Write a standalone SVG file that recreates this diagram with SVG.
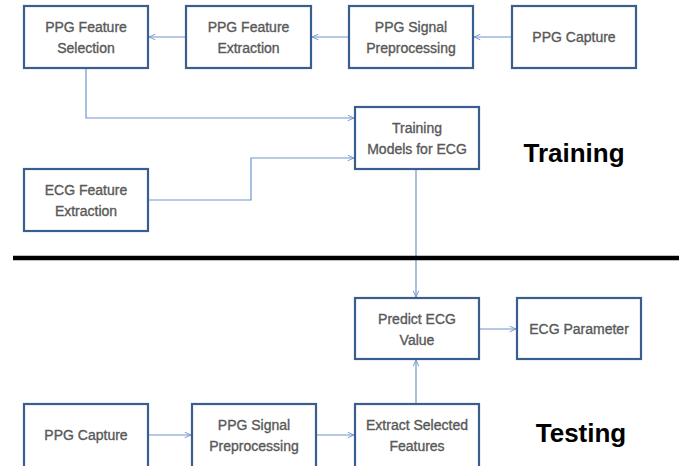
<svg xmlns="http://www.w3.org/2000/svg" width="688" height="466" viewBox="0 0 688 466">
<style>
.box{fill:#ffffff;stroke:#3a5f8e;stroke-width:2.2}
.lbl{font-family:"Liberation Sans",Arial,sans-serif;font-size:14px;fill:#595959;stroke:#595959;stroke-width:0.35;text-anchor:middle}
.big{font-family:"Liberation Sans",Arial,sans-serif;font-size:26px;font-weight:bold;fill:#000000;text-anchor:middle}
.con{fill:none;stroke:#6f96cc;stroke-width:1.2}
</style>
<defs>
<marker id="arr" viewBox="0 0 10 10" refX="10" refY="5" markerWidth="7" markerHeight="7" orient="auto" markerUnits="userSpaceOnUse">
<path d="M1,1 L10,5 L1,9" fill="none" stroke="#6f96cc" stroke-width="1.3"/>
</marker>
</defs>
<rect width="688" height="466" fill="#ffffff"/>
<g id="connectors">
<line class="con" x1="512" y1="37" x2="474" y2="37" marker-end="url(#arr)"/>
<line class="con" x1="349" y1="37" x2="312" y2="37" marker-end="url(#arr)"/>
<line class="con" x1="186" y1="37" x2="149" y2="37" marker-end="url(#arr)"/>
<polyline class="con" points="86,69 86,118 354,118" marker-end="url(#arr)"/>
<polyline class="con" points="149,200 251,200 251,158 354,158" marker-end="url(#arr)"/>
<line class="con" x1="416" y1="170" x2="416" y2="297" marker-end="url(#arr)"/>
<line class="con" x1="480" y1="329" x2="516" y2="329" marker-end="url(#arr)"/>
<line class="con" x1="149" y1="435" x2="191" y2="435" marker-end="url(#arr)"/>
<line class="con" x1="317" y1="435" x2="354" y2="435" marker-end="url(#arr)"/>
<line class="con" x1="416" y1="403" x2="416" y2="360" marker-end="url(#arr)"/>
</g>
<g id="divider"><line x1="13" y1="258" x2="679" y2="258" stroke="#000000" stroke-width="4.5"/></g>
<g id="ppg-feature-selection"><rect class="box" x="24" y="6" width="124" height="62"/><text class="lbl" x="86" y="32">PPG Feature</text><text class="lbl" x="86" y="53">Selection</text></g>
<g id="ppg-feature-extraction"><rect class="box" x="186" y="6" width="125" height="62"/><text class="lbl" x="248.5" y="32">PPG Feature</text><text class="lbl" x="248.5" y="53">Extraction</text></g>
<g id="ppg-signal-preprocessing"><rect class="box" x="349" y="6" width="124" height="62"/><text class="lbl" x="411" y="32">PPG Signal</text><text class="lbl" x="411" y="53">Preprocessing</text></g>
<g id="ppg-capture"><rect class="box" x="512" y="6" width="124" height="62"/><text class="lbl" x="574" y="42">PPG Capture</text></g>
<g id="training-models"><rect class="box" x="355" y="107" width="124" height="62"/><text class="lbl" x="417" y="133">Training</text><text class="lbl" x="417" y="154">Models for ECG</text></g>
<g id="ecg-feature-extraction"><rect class="box" x="24" y="169" width="124" height="62"/><text class="lbl" x="86" y="195">ECG Feature</text><text class="lbl" x="86" y="216">Extraction</text></g>
<g id="training-label"><text class="big" x="574" y="162">Training</text></g>
<g id="predict-ecg-value"><rect class="box" x="355" y="298" width="124" height="61"/><text class="lbl" x="417" y="324">Predict ECG</text><text class="lbl" x="417" y="345">Value</text></g>
<g id="ecg-parameter"><rect class="box" x="517" y="298" width="124" height="61"/><text class="lbl" x="579" y="334">ECG Parameter</text></g>
<g id="ppg-capture-test"><rect class="box" x="24" y="404" width="124" height="66"/><text class="lbl" x="86" y="440">PPG Capture</text></g>
<g id="ppg-signal-preprocessing-test"><rect class="box" x="192" y="404" width="124" height="66"/><text class="lbl" x="254" y="430">PPG Signal</text><text class="lbl" x="254" y="451">Preprocessing</text></g>
<g id="extract-selected-features"><rect class="box" x="355" y="404" width="124" height="66"/><text class="lbl" x="417" y="430">Extract Selected</text><text class="lbl" x="417" y="451">Features</text></g>
<g id="testing-label"><text class="big" x="581" y="442">Testing</text></g>
</svg>
